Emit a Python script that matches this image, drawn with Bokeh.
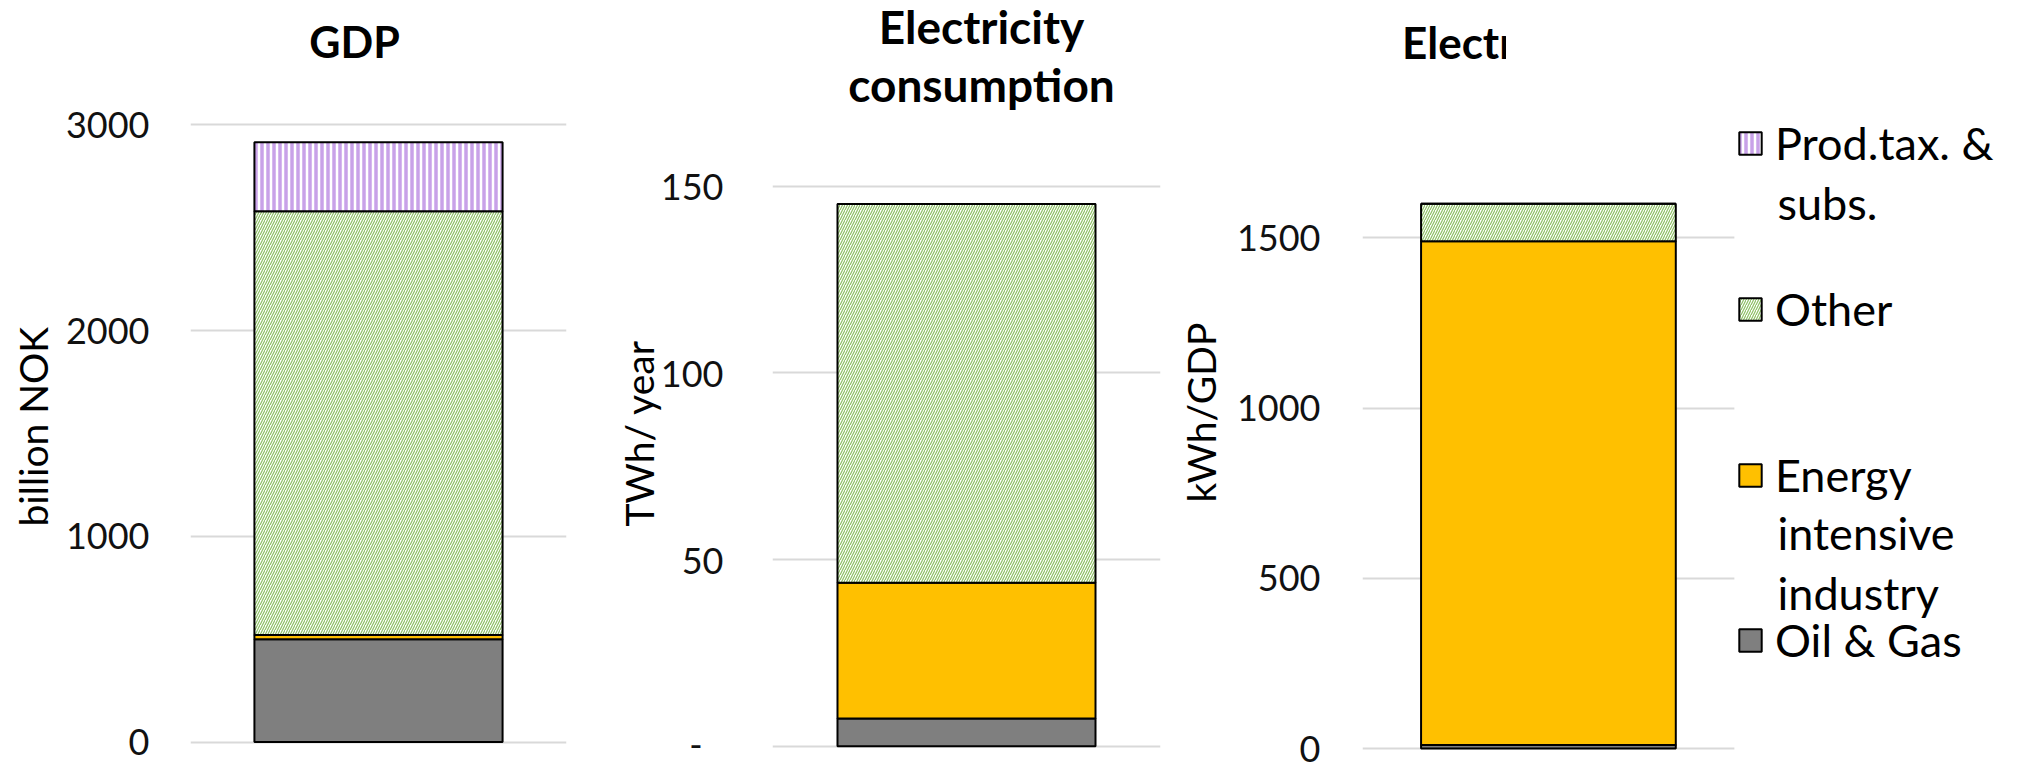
import math
from bokeh.plotting import figure
from bokeh.layouts import row, column
from bokeh.models import (Range1d, FixedTicker, Legend, LegendItem, Label, Title,
                          BoxAnnotation, Div)
from bokeh.embed import file_html
from bokeh.resources import INLINE

# ---- data -------------------------------------------------------------
sectors = ["Oil & Gas", "Energy intensive industry", "Other", "Prod.tax. & subs."]
legend_lines = [["Oil & Gas"], ["Energy", "intensive", "industry"], ["Other"],
                ["Prod.tax. &", "subs."]]

gdp_bn_nok = [500, 20, 2060, 335]           # billion NOK
consumption_twh = [7.4, 36.4, 101.4, 0]     # TWh/year
intensity_kwh = [10, 1480, 110, 0]          # kWh/GDP

gdp_ticks = [0, 1000, 2000, 3000]
cons_ticks = [0, 50, 100, 150]
int_ticks = [0, 500, 1000, 1500]

# ---- styles -----------------------------------------------------------
FONT = "Lato"
styles = [
    dict(fill_color="#7f7f7f"),
    dict(fill_color="#ffc000"),
    dict(fill_color="white", hatch_pattern="/", hatch_color="#8cc063",
         hatch_scale=5, hatch_weight=1.2),
    dict(fill_color="white", hatch_pattern="|", hatch_color="#c8a2e8",
         hatch_scale=6, hatch_weight=3.5),
]
LABEL_SHIFT = 16   # Label anchor vs. text baseline, px


def panel(values, width, height, x_end, scale, frame, ticks, borders,
          standoff, bar_width, ylabel, ylabel_standoff, ylabel_start):
    """scale = (page y of zero, pixels per unit); frame = (top, bottom) page y;
    ylabel_start = page y where the rotated axis title begins."""
    z0, k = scale
    ft, fb = frame
    left, right, top, bottom = borders
    p = figure(width=width, height=height, output_backend="svg", title=None,
               toolbar_location=None, x_axis_location=None,
               x_range=Range1d(0, x_end),
               y_range=Range1d(-(fb - z0) / k, (z0 - ft) / k),
               min_border_left=left, min_border_right=right,
               min_border_top=top, min_border_bottom=bottom,
               background_fill_color="white", border_fill_color="white")
    p.outline_line_color = None
    p.xgrid.grid_line_color = None
    p.ygrid.grid_line_color = "#d9d9d9"
    p.ygrid.grid_line_width = 2
    ax = p.yaxis[0]
    ax.ticker = FixedTicker(ticks=ticks)
    ax.axis_line_color = None
    ax.major_tick_line_color = None
    ax.minor_tick_line_color = None
    ax.major_tick_out = 0
    ax.major_tick_in = 0
    ax.minor_tick_out = 0
    ax.minor_tick_in = 0
    ax.major_label_standoff = standoff
    ax.major_label_text_font = FONT
    ax.major_label_text_font_size = "36px"
    ax.major_label_text_color = "#111111"
    # vertical axis title, placed along the axis by its starting point
    p.add_layout(Title(text=ylabel, align="left", offset=fb - ylabel_start,
                       standoff=ylabel_standoff, vertical_align="bottom",
                       text_font=FONT, text_font_size="39px",
                       text_font_style="normal", text_color="black"), "left")
    renderers = []
    base = 0
    for v, st in zip(values, styles):
        r = p.vbar(x=[0.5], bottom=[base], top=[base + v], width=bar_width,
                   line_color="black", line_width=2, **st)
        renderers.append(r)
        base += v
    return p, renderers


def text_at(p, text, x, frame_bottom, baseline, size, bold=False, align="center"):
    p.add_layout(Label(x=x, y=frame_bottom - baseline + LABEL_SHIFT,
                       x_units="screen", y_units="screen", text=text,
                       text_font=FONT, text_font_size=size,
                       text_font_style="bold" if bold else "normal",
                       text_align=align, text_baseline="alphabetic",
                       text_color="black"))


# GDP panel: frame x 188..566, y 0..748 (0 at 741.5, 3000 at 124.3)
p1, _ = panel(gdp_bn_nok, 600, 765, 1, (741.5, (741.5 - 124.3) / 3000), (0, 748),
              gdp_ticks, (188, 34, 0, 17), 41, 0.66, "billion NOK", 14, 526)
text_at(p1, "GDP", 164, 748, 57, "43px", bold=True)

# Electricity consumption panel: frame x 772..1160 (0 at 745.7, 150 at 185.7)
p2, _ = panel(consumption_twh, 565, 765, 1, (745.7, (745.7 - 185.7) / 150), (0, 748),
              cons_ticks, (172, 5, 0, 17), 49, 0.665, "TWh/ year", -8, 526)
p2.yaxis[0].major_label_overrides = {0: "-\u2007"}
text_at(p2, "Electricity", 209, 748, 42, "46px", bold=True)
text_at(p2, "consumption", 209, 748, 100, "46px", bold=True)

# Electricity intensity panel: plot area x 1360..1733, legend to the right
p3, rs3 = panel(intensity_kwh, 854, 695, 659 / 373, (748, (748 - 237.3) / 1500),
                (70, 750), int_ticks, (195, 0, 0, 15), 42, 0.685, "kWh/GDP", 20, 502)
p3.add_layout(BoxAnnotation(left=1.0, fill_color="white", fill_alpha=1.0,
                            line_alpha=0))

# legend entries at an even pitch; extra lines of an entry continue below it
glyph_center = {3: 142.5, 2: 309, 1: 474.5, 0: 639.5}
first_baseline = {3: 158, 2: 323, 1: 488, 0: 652}
for i in [3, 2, 1, 0]:
    lg = Legend(items=[LegendItem(label=legend_lines[i][0], renderers=[rs3[i]])],
                location=(374, 64 + (659 - glyph_center[i])),
                orientation="vertical", border_line_color=None,
                background_fill_alpha=0, padding=0, margin=0, spacing=0,
                glyph_width=28, glyph_height=28, label_standoff=11,
                label_text_font=FONT, label_text_font_size="45px",
                label_text_color="black")
    p3.add_layout(lg)
    for j, line in enumerate(legend_lines[i][1:], start=1):
        text_at(p3, line, 415, 750, first_baseline[i] + 60 * j, "45px", align="left")

# heading strip above the intensity panel; the text box is narrower than the text
head3 = Div(text='<div style="position:absolute; left:237px; top:20px; width:104px; '
                 'overflow:hidden; white-space:nowrap; font-family:Lato; '
                 'font-weight:bold; font-size:44px; line-height:44px; color:black;">'
                 'Electricity intensity</div>',
            width=854, height=70, margin=0)

layout = row(p1, p2, column(head3, p3, spacing=0), spacing=0)

with open("out.html", "w") as f:
    f.write(file_html(layout, INLINE))
